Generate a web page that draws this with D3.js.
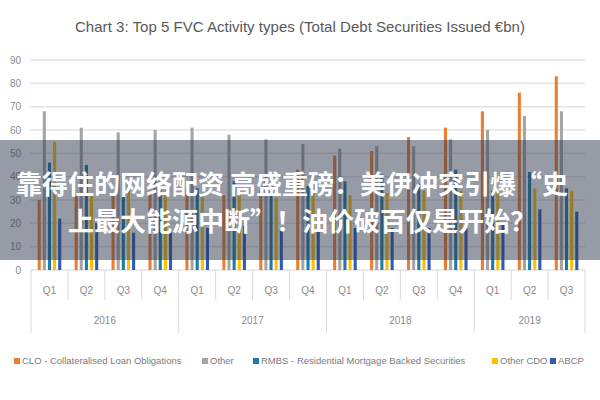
<!DOCTYPE html>
<html lang="en">
<head>
    <title>Chart 3: Top 5 FVC Activity types</title>
    <meta charset="utf-8">
    <script src="https://d3js.org/d3.v7.min.js"></script>
    <style>
        * {
            margin: 0;
            padding: 0;
        }
        body {
            width: 600px;
            height: 400px;
            background-color: white;
            overflow: hidden;
        }
        svg text {
            font-family: 'Liberation Sans', sans-serif;
        }
        .banner text {
            font-family: 'Noto Sans CJK SC', sans-serif;
            font-weight: 700;
            fill: white;
        }
    </style>
</head>
<body>
<div id="container"></div>
<script>
    const quarters = ["Q1", "Q2", "Q3", "Q4", "Q1", "Q2", "Q3", "Q4", "Q1", "Q2", "Q3", "Q4", "Q1", "Q2", "Q3"];
    const years = ["2016", "2017", "2018", "2019"];
    const quartersPerYear = [4, 4, 4, 3];

    const seriesNames = [
        "CLO - Collateralised Loan Obligations",
        "Other",
        "RMBS - Residential Mortgage Backed Securities",
        "Other CDO",
        "ABCP"
    ];
    const clo      = [30, 32, 32, 33, 35, 32, 34, 43, 49, 51, 57, 61, 68, 76, 83];
    const other    = [68, 61, 59, 60, 61, 58, 56, 54, 52, 53, 53, 56, 60, 66, 68];
    const rmbs     = [46, 45, 39, 34, 35, 38, 34, 36, 38, 41, 37, 43, 34, 42, 35];
    const otherCdo = [55, 33, 37, 33, 33, 34, 31, 33, 32, 33, 34, 34, 34, 35, 34];
    const abcp     = [22, 20, 16, 16, 18, 19, 17, 17, 18, 18, 18, 18, 20, 26, 25];
    const yTicks = [0, 10, 20, 30, 40, 50, 60, 70, 80, 90];

    const colors = ["#ED7D31", "#A5A5A5", "#1E7BA6", "#FFC000", "#2F5BB7"];
    const series = [clo, other, rmbs, otherCdo, abcp];

    const w = 600;
    const h = 400;
    const plotLeft = 31, plotRight = 585, plotTop = 60, plotBottom = 270;

    const svg = d3.select("#container")
        .append("svg")
        .attr("width", w)
        .attr("height", h);

    svg.append("text")
        .attr("x", 300)
        .attr("y", 32)
        .attr("text-anchor", "middle")
        .attr("font-size", 15)
        .attr("textLength", 450)
        .attr("lengthAdjust", "spacingAndGlyphs")
        .attr("fill", "#595959")
        .text("Chart 3: Top 5 FVC Activity types (Total Debt Securities Issued €bn)");

    const yScale = d3.scaleLinear().domain([0, 90]).range([plotBottom, plotTop]);

    const idx = d3.range(quarters.length);
    const x0 = d3.scaleBand().domain(idx).range([plotLeft, plotRight]).paddingInner(0.25).paddingOuter(0.125);
    const x1 = d3.scaleBand().domain(d3.range(series.length)).range([0, x0.bandwidth()]).padding(0.4);

    // gridlines + y labels
    svg.append("g")
        .selectAll("line")
        .data(yTicks)
        .enter()
        .append("line")
        .attr("x1", plotLeft - 1)
        .attr("x2", plotRight)
        .attr("y1", d => yScale(d))
        .attr("y2", d => yScale(d))
        .attr("stroke", "#e3e3e3")
        .attr("stroke-width", 1.5);

    svg.append("g")
        .selectAll("text")
        .data(yTicks)
        .enter()
        .append("text")
        .attr("x", 21)
        .attr("y", d => yScale(d) + 3.5)
        .attr("text-anchor", "end")
        .attr("font-size", 10)
        .attr("fill", "#8a8a8a")
        .text(d => d);

    // bars
    const groups = svg.append("g")
        .selectAll("g")
        .data(series)
        .enter()
        .append("g")
        .attr("fill", (d, i) => colors[i]);

    groups.each(function(values, si) {
        d3.select(this).selectAll("rect")
            .data(values)
            .enter()
            .append("rect")
            .attr("x", (d, qi) => x0(qi) + x1(si))
            .attr("y", d => yScale(d))
            .attr("width", x1.bandwidth())
            .attr("height", d => yScale(0) - yScale(d));
    });

    // category axis
    const axis = svg.append("g").attr("stroke", "#d9d9d9");
    const step = x0.step();
    let yearStart = 0;
    const yearBounds = [0];
    quartersPerYear.forEach(n => { yearStart += n; yearBounds.push(yearStart); });

    d3.range(quarters.length + 1).forEach(i => {
        const isYear = yearBounds.includes(i);
        axis.append("line")
            .attr("x1", plotLeft + i * step)
            .attr("x2", plotLeft + i * step)
            .attr("y1", plotBottom)
            .attr("y2", isYear ? 333 : 300);
    });

    svg.append("g")
        .selectAll("text")
        .data(quarters)
        .enter()
        .append("text")
        .attr("x", (d, i) => x0(i) + x0.bandwidth() / 2)
        .attr("y", 294)
        .attr("text-anchor", "middle")
        .attr("font-size", 10)
        .attr("fill", "#8a8a8a")
        .text(d => d);

    svg.append("g")
        .selectAll("text")
        .data(years)
        .enter()
        .append("text")
        .attr("x", (d, i) => plotLeft + (yearBounds[i] + yearBounds[i + 1]) / 2 * step)
        .attr("y", 324)
        .attr("text-anchor", "middle")
        .attr("font-size", 10)
        .attr("fill", "#8a8a8a")
        .text(d => d);

    // legend
    const legendX = [14, 202, 253, 492, 550];
    const legend = svg.append("g")
        .selectAll("g")
        .data(seriesNames)
        .enter()
        .append("g")
        .attr("transform", (d, i) => `translate(${legendX[i]}, 362)`);
    legend.append("rect")
        .attr("x", 0)
        .attr("y", -4)
        .attr("width", 6)
        .attr("height", 6)
        .attr("fill", (d, i) => colors[i]);
    legend.append("text")
        .attr("x", 8)
        .attr("y", 2)
        .attr("font-size", 9.5)
        .attr("fill", "#7a7a7a")
        .text(d => d);

    // overlay banner
    const banner = svg.append("g").attr("class", "banner");
    banner.append("rect")
        .attr("x", 0)
        .attr("y", 140)
        .attr("width", w)
        .attr("height", 120)
        .attr("fill", "rgba(45, 55, 75, 0.5)");
    banner.append("text")
        .attr("x", 292)
        .attr("y", 194)
        .attr("text-anchor", "middle")
        .attr("font-size", 26)
        .text("靠得住的网络配资 高盛重磅：美伊冲突引爆“史");
    banner.append("text")
        .attr("x", 302)
        .attr("y", 231)
        .attr("text-anchor", "middle")
        .attr("font-size", 26)
        .text("上最大能源中断”！油价破百仅是开始？");
</script>
</body>
</html>
